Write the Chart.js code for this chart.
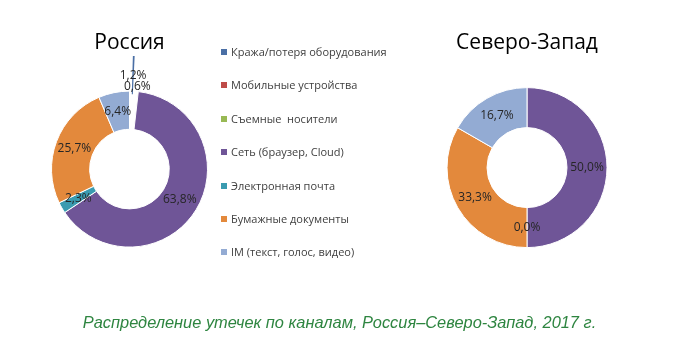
<!DOCTYPE html>
<html lang="ru">
<head>
<meta charset="utf-8">
<title>Распределение утечек по каналам</title>
<script src="https://cdn.jsdelivr.net/npm/chart.js@4/dist/chart.umd.min.js"></script>
<style>
    html, body { margin: 0; padding: 0; background: #fff; }
    #page { position: relative; width: 679px; height: 344px; overflow: hidden; }
    canvas { position: absolute; top: 0; }
    #russia { left: 0; }
    #northwest { left: 400px; }
    #legend {
        position: absolute; left: 221px; top: 45px; margin: 0; padding: 0;
        list-style: none; font: 11px 'Open Sans', sans-serif; color: #404040;
    }
    #legend li { height: 14px; line-height: 14px; margin-bottom: 19.4px; white-space: pre; }
    #legend .box { display: inline-block; width: 6px; height: 6px; margin-right: 4px; vertical-align: 1px; }
    #caption {
        position: absolute; left: 0; top: 313px; width: 679px;
        text-align: center; font: italic 16.4px "Liberation Sans", Arial, sans-serif;
        line-height: 18px; color: #2E8540;
    }
</style>
</head>
<body>
<div id="page">
    <canvas id="russia" width="259" height="344"></canvas>
    <ul id="legend"></ul>
    <canvas id="northwest" width="254" height="344"></canvas>
    <div id="caption">Распределение утечек по каналам, Россия–Северо-Запад, 2017 г.</div>
</div>
<script>
const channelLabels = [
    'Кража/потеря оборудования',
    'Мобильные устройства',
    'Съемные  носители',
    'Сеть (браузер, Cloud)',
    'Электронная почта',
    'Бумажные документы',
    'IM (текст, голос, видео)'
];

const channelColors = ['#4A6FA5', '#BE4B48', '#98B954', '#6F5597', '#3A9BB0', '#E3893C', '#93ABD3'];

// share of leaks, %; null = no data label
const russiaValues = [1.2, null, 0.6, 63.8, 2.3, 25.7, 6.4];
const northwestValues = [null, null, null, 50.0, 0.0, 33.3, 16.7];

// pulled-out slices on the Russia ring
const russiaOffsets = [73, 0, 49, 0, 0, 0, 0];
const russiaBorders = [0, 1, 0, 1, 1, 1, 1];

Chart.defaults.font.family = "'Open Sans', sans-serif";
Chart.defaults.color = '#404040';

/** Writes each slice's percentage in the middle of its (possibly pulled-out) arc */
const sliceLabels = {
    id: 'sliceLabels',
    afterDatasetsDraw(chart) {
        const ctx = chart.ctx;
        const raw = chart.data.datasets[0].data;
        const arcs = chart.getDatasetMeta(0).data;
        ctx.save();
        ctx.font = "12px 'Open Sans', sans-serif";
        ctx.fillStyle = '#262626';
        ctx.textAlign = 'center';
        ctx.textBaseline = 'middle';
        arcs.forEach((arc, i) => {
            if (raw[i] === null) return;
            const mid = (arc.startAngle + arc.endAngle) / 2;
            const off = (arc.options.offset || 0) / 4;
            const fix = 1 - Math.sin(Math.min(Math.PI, arc.circumference || 0));
            const r = (arc.innerRadius + arc.outerRadius) / 2 + off + off * fix;
            const x = arc.x + Math.cos(mid) * r;
            const y = arc.y + Math.sin(mid) * r;
            ctx.fillText(raw[i].toFixed(1).replace('.', ',') + '%', x, y);
        });
        ctx.restore();
    }
};

/** Builds the legend list next to the chart from the chart's own legend items */
const htmlLegend = {
    id: 'htmlLegend',
    afterUpdate(chart, args, options) {
        const list = document.getElementById(options.containerID);
        list.innerHTML = '';
        const items = chart.options.plugins.legend.labels.generateLabels(chart);
        items.forEach(item => {
            const li = document.createElement('li');
            const box = document.createElement('span');
            box.className = 'box';
            box.style.background = item.fillStyle;
            li.appendChild(box);
            li.appendChild(document.createTextNode(item.text));
            list.appendChild(li);
        });
    }
};

function titleOptions(text) {
    return {
        display: true,
        text: text,
        color: '#000',
        font: { size: 21, weight: 'normal', lineHeight: 1.2 },
        padding: { top: 5, bottom: 1 }
    };
}

new Chart(document.getElementById('russia'), {
    type: 'doughnut',
    data: {
        labels: channelLabels,
        datasets: [{
            data: russiaValues,
            backgroundColor: channelColors,
            borderColor: '#fff',
            borderWidth: russiaBorders,
            offset: russiaOffsets
        }]
    },
    options: {
        responsive: false,
        animation: false,
        radius: 78,
        cutout: '51%',
        layout: { padding: { left: 0, right: 0, top: 25, bottom: 62 } },
        plugins: {
            title: titleOptions('Россия'),
            tooltip: { enabled: false },
            legend: { display: false },
            htmlLegend: { containerID: 'legend' }
        }
    },
    plugins: [sliceLabels, htmlLegend]
});

new Chart(document.getElementById('northwest'), {
    type: 'doughnut',
    data: {
        labels: channelLabels,
        datasets: [{
            data: northwestValues,
            backgroundColor: channelColors,
            borderColor: '#fff',
            borderWidth: 1
        }]
    },
    options: {
        responsive: false,
        animation: false,
        radius: 80,
        cutout: '50%',
        layout: { padding: { left: 0, right: 0, top: 25, bottom: 65 } },
        plugins: {
            title: titleOptions('Северо-Запад'),
            tooltip: { enabled: false },
            legend: { display: false }
        }
    },
    plugins: [sliceLabels]
});
</script>
</body>
</html>
